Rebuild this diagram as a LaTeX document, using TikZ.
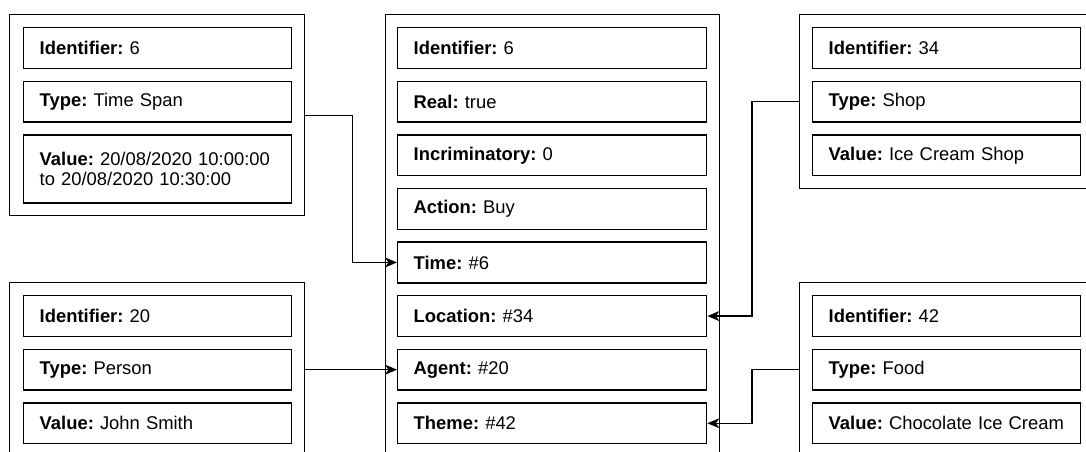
\documentclass[tikz,border=0pt]{standalone}
\usepackage{fontspec}
\setmainfont{Liberation Sans}
\usetikzlibrary{arrows.meta}
\frenchspacing
\begin{document}
\begin{tikzpicture}[x=1pt,y=-1pt,
  font=\fontsize{18.4}{20.5}\selectfont,
  frame/.style={draw, line width=1.4pt, anchor=north west, inner sep=0pt},
  field/.style={draw, line width=1.4pt, anchor=north west, inner xsep=16pt,
    inner ysep=0pt, align=left, minimum height=40.7pt},
  sidefield/.style={field, text width=236pt},
  midfield/.style={field, text width=277pt},
  link/.style={line width=1.4pt, -{Stealth[length=12pt,width=10pt,inset=3.5pt]}},
]
\useasboundingbox (0,0) rectangle (1086,451);
\clip (0,0) rectangle (1086,451);

% outer record frames
\node[frame, minimum width=295pt, minimum height=201pt] (tl) at (9,14) {};
\node[frame, minimum width=295pt, minimum height=200pt] (bl) at (9,282) {};
\node[frame, minimum width=334pt, minimum height=460pt] (ev) at (385,14) {};
\node[frame, minimum width=310pt, minimum height=174pt] (tr) at (799,14) {};
\node[frame, minimum width=310pt, minimum height=200pt] (br) at (799,282) {};

% time span record
\node[sidefield] (tlid)   at (23,27)    {\textbf{Identifier:} 6};
\node[sidefield] (tltype) at (23,80.6)  {\textbf{Type:} Time Span};
\node[sidefield, minimum height=68pt] (tlval) at (23,134.2)
  {\textbf{Value:} 20/08/2020 10:00:00\\to 20/08/2020 10:30:00};

% person record
\node[sidefield] (blid)   at (23,295)   {\textbf{Identifier:} 20};
\node[sidefield] (bltype) at (23,348.6) {\textbf{Type:} Person};
\node[sidefield] (blval)  at (23,402.2) {\textbf{Value:} John Smith};

% event record
\node[midfield] (evid)   at (397,27)    {\textbf{Identifier:} 6};
\node[midfield] (real)   at (397,80.6)  {\textbf{Real:} true};
\node[midfield] (incr)   at (397,134.2) {\textbf{Incriminatory:} 0};
\node[midfield] (action) at (397,187.8) {\textbf{Action:} Buy};
\node[midfield] (time)   at (397,241.4) {\textbf{Time:} \#6};
\node[midfield] (loc)    at (397,295)   {\textbf{Location:} \#34};
\node[midfield] (agent)  at (397,348.6) {\textbf{Agent:} \#20};
\node[midfield] (theme)  at (397,402.2) {\textbf{Theme:} \#42};

% shop record
\node[sidefield] (trid)   at (812,27)    {\textbf{Identifier:} 34};
\node[sidefield] (trtype) at (812,80.6)  {\textbf{Type:} Shop};
\node[sidefield] (trval)  at (812,134.2) {\textbf{Value:} Ice Cream Shop};

% food record
\node[sidefield] (brid)   at (812,295)   {\textbf{Identifier:} 42};
\node[sidefield] (brtype) at (812,348.6) {\textbf{Type:} Food};
\node[sidefield] (brval)  at (812,402.2) {\textbf{Value:} Chocolate Ice Cream};

% references from the event fields
\draw[link] (tl.east) -- ++(47,0) |- (time.west);
\draw[link] (tr.west) -- ++(-47,0) |- (loc.east);
\draw[link] (bl.east |- agent.west) -- (agent.west);
\draw[link] (br.west |- brtype.west) -- ++(-47,0) |- (theme.east);
\end{tikzpicture}
\end{document}
